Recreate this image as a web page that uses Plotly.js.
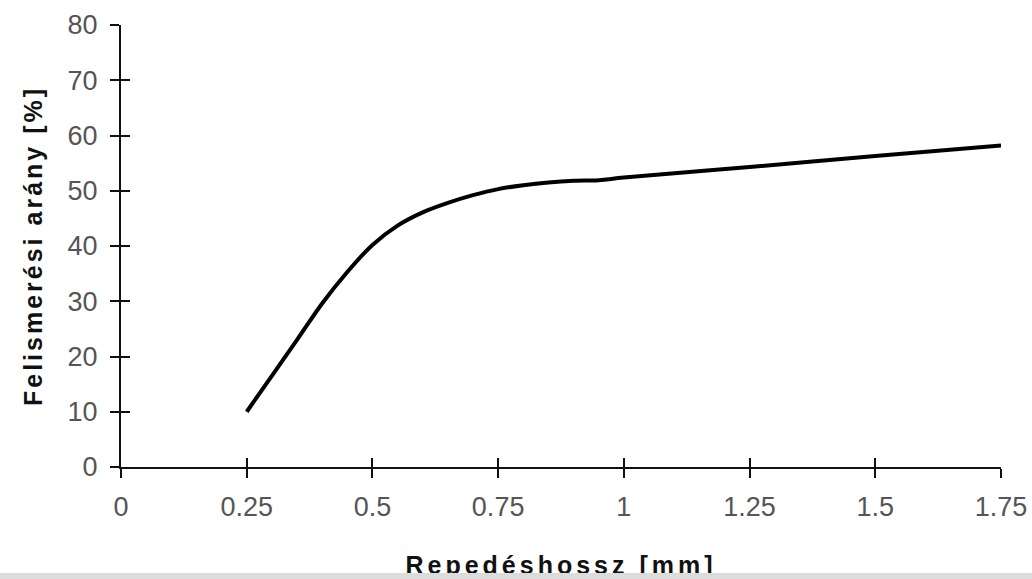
<!DOCTYPE html>
<html>
<head>
<meta charset="utf-8">
<script src="https://cdn.plot.ly/plotly-3.0.1.min.js"></script>
<style>
html,body{margin:0;padding:0;background:#fff;}
#chart{width:1032px;height:579px;position:relative;}
#strip{position:absolute;left:0;top:573px;width:1032px;height:6px;background:#dcdcdc;}
.g-xtitle text{letter-spacing:4px;}
.g-ytitle text{letter-spacing:3px;}
</style>
</head>
<body>
<div id="chart"></div>
<div id="strip"></div>
<script>
const crackLength = [0.25, 0.30, 0.35, 0.40, 0.45, 0.50, 0.55, 0.60, 0.65, 0.70, 0.75, 0.80, 0.85, 0.90, 0.95, 1.00, 1.25, 1.50, 1.75];
const detectionRate = [10, 16.5, 23.0, 29.6, 35.3, 40.2, 43.7, 46.1, 47.8, 49.2, 50.3, 51.0, 51.5, 51.8, 51.9, 52.4, 54.3, 56.3, 58.2];
const xTickVals = [0, 0.25, 0.5, 0.75, 1, 1.25, 1.5, 1.75];
const xTickText = ['0', '0.25', '0.5', '0.75', '1', '1.25', '1.5', '1.75'];
const yTickVals = [0, 10, 20, 30, 40, 50, 60, 70, 80];
const xTitle = 'Repedéshossz [mm]';
const yTitle = 'Felismerési arány [%]';

const tickFont = {family: 'Liberation Sans, Arial, sans-serif', size: 27, color: '#555'};
const titleFont = {family: 'Liberation Sans, Arial, sans-serif', size: 25, color: '#111', weight: 'bold'};

const data = [{
  x: crackLength, y: detectionRate, type: 'scatter', mode: 'lines',
  line: {color: '#000', width: 4, shape: 'spline', smoothing: 1},
  hoverinfo: 'skip', showlegend: false
}, {
  x: [], y: [], xaxis: 'x2', yaxis: 'y2', type: 'scatter', mode: 'lines',
  hoverinfo: 'skip', showlegend: false
}];

const layout = {
  width: 1032, height: 579,
  margin: {l: 121, r: 31, t: 25, b: 112},
  paper_bgcolor: '#fff', plot_bgcolor: '#fff',
  showlegend: false,
  xaxis: {
    range: [0, 1.75], tickmode: 'array', tickvals: xTickVals, ticktext: xTickText,
    showgrid: false, zeroline: false, showline: true, linecolor: '#111', linewidth: 2,
    ticks: 'outside', ticklen: 9, tickwidth: 2, tickcolor: '#111',
    tickfont: tickFont, ticklabelstandoff: 6,
    title: {text: xTitle, font: titleFont, standoff: 42},
    automargin: false, fixedrange: true
  },
  yaxis: {
    range: [0, 80], tickmode: 'array', tickvals: yTickVals,
    showgrid: false, zeroline: false, showline: true, linecolor: '#111', linewidth: 2,
    ticks: 'outside', ticklen: 9, tickwidth: 2, tickcolor: '#111',
    tickfont: tickFont, ticklabelstandoff: 7,
    title: {text: yTitle, font: titleFont, standoff: 18},
    automargin: false, fixedrange: true
  },
  xaxis2: {
    range: [0, 1.75], overlaying: 'x', anchor: 'y2', tickmode: 'array', tickvals: xTickVals,
    showticklabels: false, showgrid: false, zeroline: false, showline: false,
    ticks: 'inside', ticklen: 9, tickwidth: 2, tickcolor: '#111', fixedrange: true
  },
  yaxis2: {
    range: [0, 80], overlaying: 'y', anchor: 'x2', side: 'left', tickmode: 'array', tickvals: yTickVals,
    showticklabels: false, showgrid: false, zeroline: false, showline: false,
    ticks: 'inside', ticklen: 9, tickwidth: 2, tickcolor: '#111', fixedrange: true
  }
};

Plotly.newPlot('chart', data, layout, {displayModeBar: false, staticPlot: true});
</script>
</body>
</html>
